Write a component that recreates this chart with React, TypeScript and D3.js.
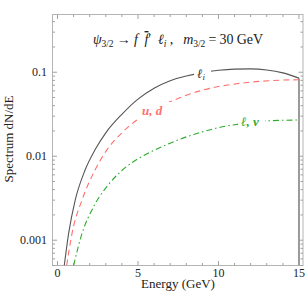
import React from 'react';
import * as d3 from 'd3';

// energies (GeV) and dN/dE for each channel
const leptonE = [0.42, 0.69, 1.1, 1.72, 2.34, 3.0, 4.0, 5.0, 6.0, 7.0, 8.0, 9.0, 10.0, 11.0, 12.0, 13.0, 14.0, 15.0];
const leptonV = [0.0005, 0.0012, 0.003, 0.0069, 0.012, 0.019, 0.0316, 0.0479, 0.0646, 0.0794, 0.0902, 0.0989, 0.1054, 0.1089, 0.1096, 0.1064, 0.0982, 0.0851];

const quarkE = [0.57, 0.9, 1.52, 2.34, 3.07, 4.0, 5.13, 6.0, 7.2, 8.0, 9.0, 10.0, 11.1, 12.0, 13.2, 14.0, 15.0];
const quarkV = [0.0005, 0.0012, 0.003, 0.0069, 0.0119, 0.019, 0.0288, 0.0363, 0.0462, 0.0531, 0.061, 0.0676, 0.0728, 0.0762, 0.0794, 0.0807, 0.0813];

const lnuE = [1.0, 1.52, 2.24, 3.2, 4.0, 5.0, 6.0, 7.0, 8.0, 9.0, 10.0, 11.0, 12.0, 13.0, 14.0, 15.0];
const lnuV = [0.0005, 0.0012, 0.0025, 0.00468, 0.00676, 0.00933, 0.01175, 0.0143, 0.017, 0.0195, 0.0219, 0.0237, 0.0252, 0.0263, 0.0268, 0.027];

const xMajor = [0, 5, 10, 15];
const yMajor = [0.001, 0.01, 0.1];
const yMajorLabels = ['0.001', '0.01', '0.1'];

const W = 306;
const H = 301;
const left = 52.5, right = 303, top = 14.5, bottom = 265.5;
const serif = "'Liberation Serif', 'Times New Roman', 'DejaVu Serif', serif";

const x = d3.scaleLinear().domain([-0.31, 15.25]).range([left, right]);
const y = d3.scaleLog().domain([0.0005, 0.487]).range([bottom, top]);

const toPts = (es: number[], vs: number[]) => es.map((e, i) => [e, vs[i]] as [number, number]);

const line = d3.line<[number, number]>()
    .x(d => x(d[0]))
    .y(d => y(d[1]))
    .curve(d3.curveMonotoneX);

// minor ticks
const xMinor = d3.range(0, 16).filter(v => v % 5 !== 0);
const yMinor: number[] = [];
[0.0001, 0.001, 0.01, 0.1].forEach(dec => {
    for (let k = 2; k <= 9; k++) {
        const v = dec * k;
        if (v >= 0.0005 && v <= 0.487) yMinor.push(v);
    }
});

const App: React.FC = () => {
    const frameCol = '#b4b4b4';
    const tickCol = '#a0a0a0';
    const lastBlack = leptonV[leptonV.length - 1];

    return (
        <svg width={W} height={H} style={{ position: 'absolute', left: 0, top: 0, background: '#fff', fontFamily: serif }}>
            <defs>
                <clipPath id="plotClip">
                    <rect x={left} y={top} width={right - left} height={bottom - top} />
                </clipPath>
            </defs>

            {/* frame */}
            <rect x={left} y={top} width={right - left} height={bottom - top} fill="none" stroke={frameCol} strokeWidth={1} />

            {/* x ticks, bottom and top */}
            {xMajor.map(v => (
                <g key={'xM' + v}>
                    <line x1={x(v)} x2={x(v)} y1={bottom} y2={bottom - 4.5} stroke={tickCol} />
                    <line x1={x(v)} x2={x(v)} y1={top} y2={top + 4.5} stroke={tickCol} />
                    <text x={x(v)} y={277} fontSize={12} textAnchor="middle" fill="#222">{v}</text>
                </g>
            ))}
            {xMinor.map(v => (
                <g key={'xm' + v}>
                    <line x1={x(v)} x2={x(v)} y1={bottom} y2={bottom - 2.5} stroke={tickCol} />
                    <line x1={x(v)} x2={x(v)} y1={top} y2={top + 2.5} stroke={tickCol} />
                </g>
            ))}

            {/* y ticks, left and right */}
            {yMajor.map((v, i) => (
                <g key={'yM' + v}>
                    <line x1={left} x2={left + 4.5} y1={y(v)} y2={y(v)} stroke={tickCol} />
                    <line x1={right} x2={right - 4.5} y1={y(v)} y2={y(v)} stroke={tickCol} />
                    <text x={47} y={y(v) + 4} fontSize={12} textAnchor="end" fill="#222">{yMajorLabels[i]}</text>
                </g>
            ))}
            {yMinor.map(v => (
                <g key={'ym' + v}>
                    <line x1={left} x2={left + 2.5} y1={y(v)} y2={y(v)} stroke={tickCol} />
                    <line x1={right} x2={right - 2.5} y1={y(v)} y2={y(v)} stroke={tickCol} />
                </g>
            ))}

            {/* curves */}
            <g clipPath="url(#plotClip)" fill="none">
                <line x1={x(15)} x2={x(15)} y1={y(lastBlack)} y2={bottom} stroke="#9a9a9a" strokeWidth={2} />
                <path d={line(toPts(lnuE, lnuV)) || ''} stroke="#2eaa2e" strokeWidth={1.1}
                    strokeDasharray="6 3 1.5 3" />
                <path d={line(toPts(quarkE, quarkV)) || ''} stroke="#ff6f6f" strokeWidth={1.1}
                    strokeDasharray="6 4" />
                <path d={line(toPts(leptonE, leptonV)) || ''} stroke="#555" strokeWidth={1.1} />
            </g>

            {/* curve labels with gaps */}
            <rect x={194} y={66} width={17} height={16} fill="#fff" />
            <text x={197} y={78} fontSize={13} fontStyle="italic" fill="#333">
                ℓ<tspan fontSize={9} dy={2}>i</tspan>
            </text>

            <rect x={139} y={102} width={32} height={16} fill="#fff" />
            <text x={142} y={115} fontSize={13} fontStyle="italic" fontWeight="bold" fill="#ff6f6f">u,  d</text>

            <rect x={238} y={114} width={27} height={15} fill="#fff" />
            <text x={241} y={126} fontSize={13} fontStyle="italic" fontWeight="bold" fill="#2eaa2e">ℓ, ν</text>

            {/* title */}
            <text x={93} y={44} fontSize={14} fill="#222" textLength={170} lengthAdjust="spacing"
                style={{ whiteSpace: 'pre' }}>
                <tspan fontStyle="italic">ψ</tspan>
                <tspan fontSize={9.5} dy={2.5}>3/2</tspan>
                <tspan dy={-2.5}> → </tspan>
                <tspan fontStyle="italic">f  </tspan>
                <tspan fontStyle="italic" textDecoration="overline">f</tspan>
                <tspan>′  </tspan>
                <tspan fontStyle="italic">ℓ</tspan>
                <tspan fontSize={9.5} fontStyle="italic" dy={2.5}>i</tspan>
                <tspan dy={-2.5}> ,   </tspan>
                <tspan fontStyle="italic">m</tspan>
                <tspan fontSize={9.5} dy={2.5}>3/2</tspan>
                <tspan dy={-2.5}> = 30 GeV</tspan>
            </text>

            {/* axis labels */}
            <text x={178} y={288} fontSize={13} textAnchor="middle" fill="#222">Energy (GeV)</text>
            <text transform={`translate(12.5,139) rotate(-90)`} fontSize={13} textAnchor="middle" fill="#222">
                Spectrum dN/dE
            </text>
        </svg>
    );
};

export default App;
